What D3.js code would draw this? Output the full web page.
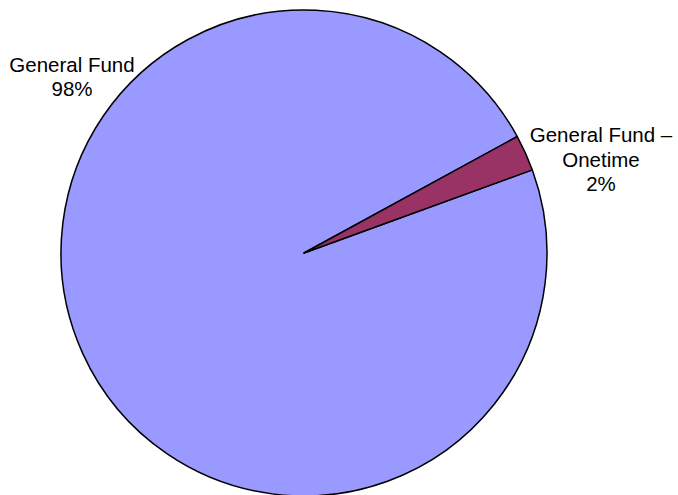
<!DOCTYPE html>
<html>
<head>
<meta charset="utf-8">
<script src="https://cdn.jsdelivr.net/npm/d3@7"></script>
<style>
  html, body { margin: 0; padding: 0; background: #fff; }
  svg { display: block; }
</style>
</head>
<body>
<svg id="chart" width="678" height="495"></svg>
<script>
// Funding sources (share of total, percent)
const categories = ["General Fund", "General Fund \u2013 Onetime"];
const values = [97.6, 2.4];
const colors = ["#9999FF", "#993366"];

const width = 678, height = 495;
const cx = 304, cy = 253, radius = 243;
const fontSize = 20.5;

const svg = d3.select("#chart");
const g = svg.append("g").attr("transform", `translate(${cx},${cy})`);

const data = categories.map((c, i) => ({ name: c, value: values[i], color: colors[i] }));
const total = d3.sum(values);

// Series starts rotated so the small slice sits at about two o'clock
const start = 70 * Math.PI / 180;
const pie = d3.pie().sort(null).value(d => d.value)
  .startAngle(start).endAngle(start + 2 * Math.PI);
const arc = d3.arc().innerRadius(0).outerRadius(radius);

g.selectAll("path.slice")
  .data(pie(data))
  .join("path")
  .attr("class", "slice")
  .attr("d", arc)
  .attr("fill", d => d.data.color)
  .attr("stroke", "#000")
  .attr("stroke-width", 1.5)
  .attr("stroke-linejoin", "round");

// Data labels: category name lines followed by the rounded percentage
const labelLayout = [
  { x: 72, y: 72, lines: ["General Fund"], lineGap: 23.5 },
  { x: 601, y: 142, lines: ["General Fund \u2013", "Onetime"], lineGap: 24.5 }
];

data.forEach((d, i) => {
  const L = labelLayout[i];
  const pct = Math.round(d.value / total * 100) + "%";
  const text = svg.append("text")
    .attr("x", L.x)
    .attr("y", L.y)
    .attr("text-anchor", "middle")
    .attr("font-family", "Liberation Sans, Arial, sans-serif")
    .attr("font-size", fontSize)
    .attr("fill", "#000");
  L.lines.concat([pct]).forEach((line, j) => {
    text.append("tspan")
      .attr("x", L.x)
      .attr("y", L.y + j * L.lineGap)
      .text(line);
  });
});
</script>
</body>
</html>
